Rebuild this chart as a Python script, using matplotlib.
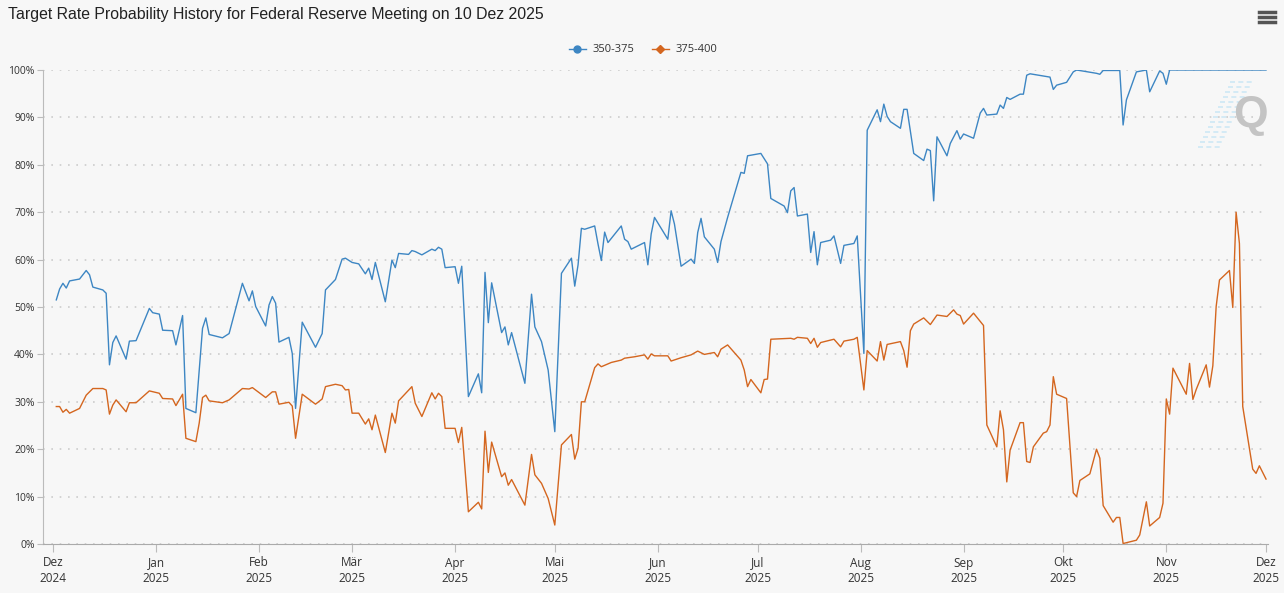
import numpy as np
import pandas as pd
import matplotlib
matplotlib.use("Agg")
import matplotlib.pyplot as plt
import matplotlib.dates as mdates
from matplotlib.lines import Line2D

# days counted from 2024-12-01, probabilities in %
days_350 = [1, 2, 3, 4, 5, 8, 10, 11, 12, 15, 16, 17, 18, 19, 22, 23, 25, 29, 30, 32,
            33, 36, 37, 39, 40, 43, 45, 46, 47, 51, 53, 57, 59, 60, 61, 64, 65, 66, 67, 68,
            71, 72, 73, 75, 79, 81, 82, 85, 87, 88, 90, 92, 94, 95, 96, 97, 100, 102, 103, 104,
            107, 108, 109, 111, 114, 115, 116, 117, 118, 121, 122, 123, 125, 128, 129, 130, 131, 132, 135, 136,
            137, 138, 142, 144, 145, 147, 149, 151, 153, 156, 157, 158, 159, 160, 163, 164, 165, 166, 167, 171,
            172, 173, 174, 178, 179, 180, 181, 185, 186, 187, 189, 192, 193, 194, 195, 196, 199, 200, 201, 203,
            207, 208, 209, 213, 215, 216, 220, 221, 222, 223, 224, 227, 228, 229, 230, 231, 234, 235, 237, 238,
            241, 242, 244, 245, 248, 249, 250, 251, 252, 255, 256, 257, 259, 262, 263, 264, 265, 266, 269, 270,
            272, 273, 274, 277, 279, 280, 281, 284, 285, 286, 287, 288, 291, 292, 293, 294, 299, 300, 301, 302,
            305, 307, 308, 314, 315, 316, 321, 322, 323, 326, 329, 330, 333, 334, 335, 336, 365]
prob_350 = [51.5, 53.8, 55, 54, 55.5, 55.9, 57.7, 56.8, 54.2, 53.6, 52.9, 37.8, 42.5, 43.9, 39, 42.8, 42.9, 49.7, 48.8, 48.5,
            45.1, 45, 42, 48.2, 28.6, 27.7, 45.5, 47.7, 44.2, 43.5, 44.4, 55, 51.3, 53.4, 50.1, 46, 50.4, 52.2, 50.8, 42.6,
            43.6, 40.2, 28.6, 46.8, 41.5, 44.4, 53.6, 55.8, 60.1, 60.3, 59.4, 59.1, 57, 58.2, 55.8, 59.4, 51.1, 59.9, 58.3, 61.3,
            61.1, 61.9, 61.7, 61, 62.2, 61.9, 62.6, 62.2, 58.3, 58.5, 55, 58.6, 31.1, 35.9, 31.9, 57.3, 46.7, 55.1, 44.6, 45.8,
            42, 44.6, 33.9, 52.7, 45.8, 42.7, 36.7, 23.7, 57.1, 60.3, 54.4, 58.9, 66.6, 66.4, 67.1, 63.3, 59.8, 65.8, 63.6, 67.1,
            64.3, 63.8, 62.2, 63.6, 58.9, 65.4, 68.9, 64.3, 70.3, 67.5, 58.6, 60.1, 59.2, 65.7, 68.7, 64.8, 62.2, 59.4, 63.8, 68.9,
            78.4, 78.2, 81.9, 82.4, 80.2, 72.9, 71.3, 69.9, 74.5, 75.2, 69.2, 69.6, 61.5, 65.9, 58.9, 63.6, 64.1, 65, 59.2, 63,
            63.4, 65, 40.2, 87.3, 91.6, 89.1, 92.8, 90.2, 89.1, 87.7, 91.7, 91.7, 82.4, 80.9, 83.3, 83, 72.4, 85.9, 81.9, 84.5,
            87.2, 85.4, 86.5, 85.6, 90.9, 91.9, 90.5, 90.7, 92.6, 91.9, 94.2, 93.8, 94.9, 94.9, 98.9, 99.2, 98.6, 98.5, 95.9, 96.8,
            97.4, 99.6, 100, 99.3, 99.1, 99.9, 99.9, 88.4, 93.7, 99.6, 100, 95.4, 99.8, 99.3, 97, 100, 100]

days_375 = [1, 2, 3, 4, 5, 8, 10, 12, 15, 16, 17, 18, 19, 22, 23, 25, 29, 32, 33, 36,
            37, 39, 40, 43, 44, 45, 46, 47, 51, 53, 57, 59, 60, 64, 66, 67, 68, 71, 72, 73,
            75, 79, 81, 82, 85, 87, 88, 89, 90, 92, 94, 95, 96, 97, 100, 102, 103, 104, 108, 109,
            111, 114, 115, 116, 117, 118, 121, 122, 123, 125, 128, 129, 130, 131, 132, 135, 136, 137, 138, 142,
            144, 145, 147, 149, 151, 153, 156, 157, 158, 159, 160, 163, 164, 165, 168, 171, 172, 175, 178, 179,
            180, 181, 185, 186, 189, 192, 194, 196, 199, 200, 201, 203, 207, 208, 209, 210, 213, 214, 215, 216,
            222, 223, 224, 227, 228, 229, 230, 231, 235, 237, 238, 241, 242, 244, 245, 248, 249, 250, 251, 255,
            256, 257, 258, 259, 262, 264, 266, 269, 271, 272, 273, 274, 277, 280, 281, 284, 285, 286, 287, 288,
            291, 292, 293, 294, 295, 298, 299, 300, 301, 302, 305, 307, 308, 309, 312, 314, 315, 316, 319, 320,
            321, 322, 326, 327, 329, 330, 333, 334, 335, 336, 337, 341, 342, 343, 344, 347, 348, 349, 350, 351,
            354, 355, 356, 357, 358, 361, 362, 363, 365]
prob_375 = [29, 29, 27.8, 28.4, 27.6, 28.6, 31.4, 32.8, 32.8, 32.5, 27.4, 29.3, 30.4, 27.9, 29.8, 29.8, 32.3, 31.8, 30.7, 30.6,
            29.2, 31.6, 22.3, 21.6, 25.5, 30.9, 31.4, 30.2, 29.8, 30.4, 32.8, 32.7, 33, 30.9, 32.1, 32.1, 29.5, 29.9, 29.1, 22.3,
            31.6, 29.5, 30.6, 33.2, 33.7, 33.4, 32.5, 32.6, 27.6, 27.6, 25.3, 26.4, 24.1, 27.2, 19.3, 27.6, 25.5, 30.2, 33.2, 29.7,
            26.9, 31.9, 30.6, 31.8, 31.1, 24.4, 24.4, 21.4, 24.6, 6.8, 8.8, 7.4, 23.8, 15.1, 21.5, 14.2, 15, 12.4, 13.6, 8.2,
            18.9, 14.6, 12.8, 9.6, 4, 20.9, 23.1, 17.9, 20.2, 30, 30, 37.2, 38, 37.4, 38.3, 38.8, 39.2, 39.5, 39.9, 39,
            40.1, 39.7, 39.7, 38.6, 39.3, 39.9, 40.7, 40, 40.4, 39.5, 41.1, 42, 38.8, 36.7, 33.2, 34.7, 31.9, 34.7, 34.8, 43.2,
            43.4, 43.2, 43.6, 43.4, 42.3, 43.4, 41.5, 42.5, 43.2, 41.6, 42.8, 43.2, 43.6, 32.5, 40.8, 38.6, 42.7, 38.8, 42.1, 42.7,
            40.8, 37.3, 45, 46.4, 47.7, 46.3, 48.3, 48, 49.4, 48.5, 48.2, 46.4, 48.7, 46.1, 25.1, 20.5, 28.1, 24.1, 13.1, 19.8,
            25.6, 25.6, 17.4, 17.2, 20.5, 23.4, 23.7, 25.1, 35.3, 31.6, 30.7, 10.8, 10, 13.4, 14.8, 20, 18.1, 8.1, 4.6, 5.6,
            5.6, 0.1, 0.8, 1.9, 8.9, 3.8, 5.6, 8.6, 30.6, 27.4, 37.1, 31.6, 38.1, 30.5, 32.6, 37.8, 33.1, 37.6, 50.1, 55.7,
            57.7, 49.9, 70, 63.4, 29, 15.8, 14.9, 16.5, 13.7]

month_labels = ["Dez\n2024", "Jan\n2025", "Feb\n2025", "Mär\n2025", "Apr\n2025", "Mai\n2025", "Jun\n2025",
                "Jul\n2025", "Aug\n2025", "Sep\n2025", "Okt\n2025", "Nov\n2025", "Dez\n2025"]
series_names = ["350-375", "375-400"]

base = pd.Timestamp("2024-12-01")
d350 = base + pd.to_timedelta(days_350, unit="D")
d375 = base + pd.to_timedelta(days_375, unit="D")

bg = "#f7f7f7"
blue = "#3d86c3"
orange = "#d4661f"

plt.rcParams['font.family'] = ['Open Sans', 'DejaVu Sans']

fig = plt.figure(figsize=(12.84, 5.93), dpi=100, facecolor=bg)
ax = fig.add_axes([43/1284, 1 - 544/593, (1268-43)/1284, (544-70)/593])
ax.set_facecolor(bg)

ax.plot(d350, prob_350, color=blue, lw=1.0)
ax.plot(d375, prob_375, color=orange, lw=1.0)

ax.set_ylim(0, 100)
ax.set_xlim(base - pd.Timedelta(days=3), base + pd.Timedelta(days=365.6))
ax.set_yticks(np.arange(0, 101, 10))
ax.set_yticklabels([f"{v}%" for v in range(0, 101, 10)])
ax.grid(axis='y', color='#cccccc', linestyle=(0, (1, 4)), lw=1.2)
ax.set_axisbelow(True)

ticks = pd.date_range("2024-12-01", "2025-12-01", freq="MS")
ax.set_xticks(ticks)
ax.set_xticklabels(month_labels)
ax.tick_params(axis='x', length=6, color='#bbbbbb', labelsize=8.5, labelcolor='#333333', pad=3)
ax.tick_params(axis='y', length=4, color='#bbbbbb', labelsize=7.5, labelcolor='#333333', pad=2)

for s in ['top', 'right']:
    ax.spines[s].set_visible(False)
ax.spines['left'].set_color('#bbbbbb')
ax.spines['bottom'].set_color('#aaaaaa')

fig.text(8/1284, 1 - 15/593, "Target Rate Probability History for Federal Reserve Meeting on 10 Dez 2025",
         family=['Liberation Sans', 'DejaVu Sans'], fontsize=11.4, color='#222222', va='center', ha='left')

handles = [Line2D([0], [0], color=blue, lw=1, marker='o', markersize=5),
           Line2D([0], [0], color=orange, lw=1, marker='D', markersize=4)]
fig.legend(handles, series_names, loc='center', bbox_to_anchor=(643/1284, 1 - 50/593), ncol=2,
           frameon=False, fontsize=8, labelcolor='#333333', handlelength=1.5, columnspacing=1.6,
           handletextpad=0.6)

# menu icon
for yy in (12, 17, 22):
    fig.add_artist(Line2D([1259/1284, 1275/1284], [1 - yy/593] * 2, color='#555555', lw=2.5))

# watermark
for i, yy in enumerate(range(82, 150, 5)):
    x1 = 1252 - (yy - 82) * 0.5
    fig.add_artist(Line2D([(x1 - 22)/1284, x1/1284], [1 - yy/593] * 2, color='#cde8f5', lw=1.2,
                          linestyle=(0, (3, 2))))
fig.text(1250/1284, 1 - 115/593, "Q", fontsize=32, fontweight='bold', color='#c4c4c4',
         family=['Liberation Sans', 'DejaVu Sans'], ha='center', va='center')

fig.savefig("out.png", dpi=100, facecolor=bg)
